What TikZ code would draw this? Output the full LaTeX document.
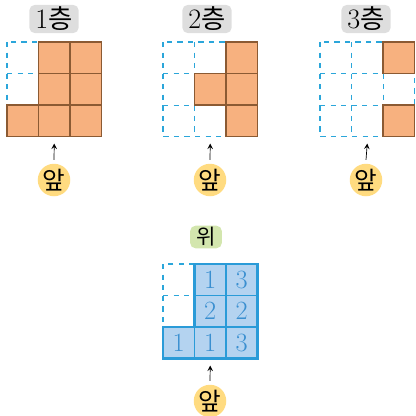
\documentclass[tikz,border=0pt]{standalone}
\usepackage{fontspec}
\newfontfamily\kr{Noto Sans CJK KR}
\definecolor{cubefill}{HTML}{F7B17F}
\definecolor{cubeline}{HTML}{8B5A33}
\definecolor{guide}{HTML}{2BA6DA}
\definecolor{topfill}{HTML}{B4D3F0}
\definecolor{topline}{HTML}{2A9BD8}
\definecolor{numcol}{HTML}{3A8FD0}
\definecolor{tagbg}{HTML}{DEDEDE}
\definecolor{topbg}{HTML}{D3E6AE}
\definecolor{frontbg}{HTML}{FFDB80}
\tikzset{
  layertag/.style={fill=tagbg, rounded corners=3pt, minimum width=28pt, minimum height=16pt, inner sep=1pt, font=\fontsize{16}{16}\selectfont},
  toptag/.style={fill=topbg, rounded corners=3pt, minimum width=18pt, minimum height=12pt, inner sep=1pt, font=\kr\fontsize{12}{12}\selectfont},
  frontmark/.style={circle, fill=frontbg, inner sep=0pt, minimum size=18.5pt, font=\kr\fontsize{14}{14}\selectfont},
  emptycell/.style={guide, dashed, line width=0.5pt},
  emptyframe/.style={guide, dashed, line width=1.1pt},
  cube/.style={fill=cubefill, draw=cubeline, line width=1.1pt},
  topcell/.style={fill=topfill, draw=topline, line width=0.8pt},
  viewarrow/.style={->, >=stealth, thin},
}
\begin{document}
\begin{tikzpicture}[x=0.02cm, y=-0.02cm]
\useasboundingbox (0,0) rectangle (416,416);
\def\cs{31.5}
% layer 1
\begin{scope}[shift={(7,42)}]
\foreach \k in {1,2} {
    \draw[emptycell] (\k*\cs,0) -- (\k*\cs,3*\cs);
    \draw[emptycell] (0,\k*\cs) -- (3*\cs,\k*\cs);}
\draw[emptyframe] (0,0) rectangle (3*\cs,3*\cs);
\foreach \c/\r in {1/0,2/0,1/1,2/1,0/2,1/2,2/2}
    \draw[cube] (\c*\cs,\r*\cs) rectangle ++(\cs,\cs);
\coordinate (g1) at (1.5*\cs,3*\cs);
\end{scope}
\node[layertag] (t1) at (54,19) {1{\kr\fontsize{15}{15}\selectfont 층}};
% layer 2
\begin{scope}[shift={(163,42)}]
\foreach \k in {1,2} {
    \draw[emptycell] (\k*\cs,0) -- (\k*\cs,3*\cs);
    \draw[emptycell] (0,\k*\cs) -- (3*\cs,\k*\cs);}
\draw[emptyframe] (0,0) rectangle (3*\cs,3*\cs);
\foreach \c/\r in {2/0,1/1,2/1,2/2}
    \draw[cube] (\c*\cs,\r*\cs) rectangle ++(\cs,\cs);
\coordinate (g2) at (1.5*\cs,3*\cs);
\end{scope}
\node[layertag] (t2) at (207,19) {2{\kr\fontsize{15}{15}\selectfont 층}};
% layer 3
\begin{scope}[shift={(320,42)}]
\foreach \k in {1,2} {
    \draw[emptycell] (\k*\cs,0) -- (\k*\cs,3*\cs);
    \draw[emptycell] (0,\k*\cs) -- (3*\cs,\k*\cs);}
\draw[emptyframe] (0,0) rectangle (3*\cs,3*\cs);
\foreach \c/\r in {2/0,2/2}
    \draw[cube] (\c*\cs,\r*\cs) rectangle ++(\cs,\cs);
\coordinate (g3) at (1.5*\cs,3*\cs);
\end{scope}
\node[layertag] (t3) at (366,19) {3{\kr\fontsize{15}{15}\selectfont 층}};
% top view
\begin{scope}[shift={(163,264)}]
\draw[emptycell] (0,\cs) -- (\cs,\cs);
\draw[emptyframe] (\cs,0) -- (0,0) -- (0,2*\cs);
\foreach \c/\r/\n in {1/0/1,2/0/3,1/1/2,2/1/2,0/2/1,1/2/1,2/2/3}
    \draw[topcell] (\c*\cs,\r*\cs) rectangle ++(\cs,\cs)
        node[midway, text=numcol, font=\fontsize{15}{15}\selectfont] {\n};
\draw[topline, line width=1.4pt] (\cs,0) -| (3*\cs,3*\cs) -| (0,2*\cs) -| (\cs,0) -- cycle;
\coordinate (g4) at (1.5*\cs,3*\cs);
\end{scope}
\node[toptag] (t4) at (206,237) {위};
% front marks
\node[frontmark] (f1) at (54,180) {앞};
\node[frontmark] (f2) at (210,180) {앞};
\node[frontmark] (f3) at (366,180) {앞};
\node[frontmark] (f4) at (210,401) {앞};
\foreach \i in {1,2,3,4}
    \draw[viewarrow] ([yshift=2pt]f\i.north) -- ([yshift=-4pt]g\i);
\end{tikzpicture}
\end{document}
